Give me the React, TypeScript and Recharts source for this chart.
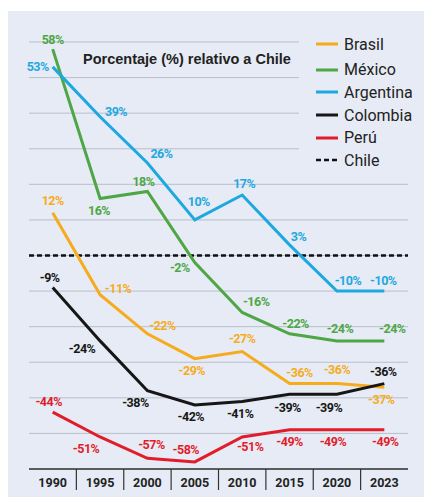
import { CartesianGrid, Legend, Line, LineChart, ReferenceLine, XAxis, YAxis } from "recharts"

const years = ["1990", "1995", "2000", "2005", "2010", "2015", "2020", "2023"]
const brasil = [12, -11, -22, -29, -27, -36, -36, -37]
const mexico = [58, 16, 18, -2, -16, -22, -24, -24]
const argentina = [53, 39, 26, 10, 17, 3, -10, -10]
const colombia = [-9, -24, -38, -42, -41, -39, -39, -36]
const peru = [-44, -51, -57, -58, -51, -49, -49, -49]
const yTicks = [-60, -50, -40, -30, -20, -10, 0, 10, 20, 30, 40, 50, 60]

const data = years.map((year, i) => ({
    year,
    brasil: brasil[i],
    mexico: mexico[i],
    argentina: argentina[i],
    colombia: colombia[i],
    peru: peru[i],
}))

// label offsets (dx, dy) from each point, hand placed like the print graphic
const OFFSETS: Record<string, number[][]> = {
    brasil: [[0, -12], [18, -6], [15, -8], [-3, 12], [0, -13], [10, -11], [0, -14], [-3, 12]],
    mexico: [[0, -10], [-1, 12], [-4, -10], [-15, 5], [14, -11], [6, -10], [3, -12], [8, -12]],
    argentina: [[-15, 0], [16, -5], [14, -9], [4, -18], [2, -12], [9, -8], [11, -11], [-1, -11]],
    colombia: [[-3, -10], [-18, 8], [-12, 12], [-4, 12], [-2, 12], [-2, 13], [-8, 13], [-1, -12]],
    peru: [[-4, -11], [-14, 12], [4, -14], [-9, -12], [8, 10], [0, 12], [-4, 12], [1, 12]],
}

const SERIES = [
    { key: "brasil", name: "Brasil", color: "#f6ab1c" },
    { key: "mexico", name: "México", color: "#4ea645" },
    { key: "argentina", name: "Argentina", color: "#1ea8e0" },
    { key: "colombia", name: "Colombia", color: "#161616" },
    { key: "peru", name: "Perú", color: "#e11d2b" },
]

const BG = "#e6ebf5"
const BAND = 379 / 8

const makeLabel = (key: string, color: string) => (props: any) => {
    const { x, y, value, index } = props
    const [dx, dy] = OFFSETS[key][index] || [0, -10]
    return (
        <text
            x={x + dx}
            y={y + dy + 4.5}
            textAnchor="middle"
            fill={color}
            fontSize={12.5}
            fontWeight={700}
            fontFamily="Roboto, sans-serif"
            letterSpacing={-0.5}
        >
            {value}%
        </text>
    )
}

const YearTick = (props: any) => {
    const { x, y, payload, index } = props
    return (
        <g>
            {index > 0 && <line x1={x - BAND / 2} x2={x - BAND / 2} y1={y} y2={y + 21} stroke="#333" strokeWidth={1.2} />}
            <text x={x} y={y + 18} textAnchor="middle" fill="#222" fontSize={12.5} fontWeight={700} fontFamily="Roboto, sans-serif">
                {payload.value}
            </text>
        </g>
    )
}

const renderLegend = () => (
    <div style={{ background: BG, width: 125, height: 140, paddingTop: 0, fontFamily: "Roboto, sans-serif" }}>
        {[...SERIES, { key: "chile", name: "Chile", color: "#111" }].map((s, i) => (
            <div key={s.key} style={{ display: "flex", alignItems: "center", height: 22.6, marginTop: i === 1 ? 3 : 0 }}>
                <svg width={22} height={4} style={{ marginLeft: 17, marginRight: 6 }}>
                    {s.key === "chile" ? (
                        <line x1={0} x2={22} y1={2} y2={2} stroke={s.color} strokeWidth={2.5} strokeDasharray="5 3" />
                    ) : (
                        <line x1={0} x2={22} y1={2} y2={2} stroke={s.color} strokeWidth={3} />
                    )}
                </svg>
                <span style={{ fontSize: 16, color: "#222" }}>{s.name}</span>
            </div>
        ))}
    </div>
)

export default function App() {
    return (
        <div style={{ position: "absolute", left: 8, top: 11, width: 416, height: 486, background: BG }}>
            <div
                style={{
                    position: "absolute",
                    left: 75,
                    top: 40,
                    fontFamily: "'Liberation Sans', Arial, sans-serif",
                    fontWeight: 700,
                    fontSize: 14.5,
                    color: "#222",
                    zIndex: 2,
                }}
            >
                Porcentaje (%) relativo a Chile
            </div>
            <LineChart width={416} height={486} data={data} margin={{ top: 31, right: 16, left: 21, bottom: 0 }}>
                <CartesianGrid horizontal vertical={false} stroke="#b9bfca" strokeWidth={1} />
                <YAxis hide domain={[-60, 60]} ticks={yTicks} />
                <XAxis
                    dataKey="year"
                    scale="band"
                    height={28}
                    tickLine={false}
                    tickSize={0}
                    tickMargin={0}
                    axisLine={{ stroke: "#333", strokeWidth: 1.5 }}
                    tick={<YearTick />}
                    interval={0}
                />
                <ReferenceLine y={0} stroke="#111" strokeWidth={2.5} strokeDasharray="5 3" />
                <Legend
                    layout="vertical"
                    align="center"
                    verticalAlign="middle"
                    content={renderLegend}
                    wrapperStyle={{ top: 22, left: 291, width: 125, height: 140 }}
                />
                {SERIES.map((s) => (
                    <Line
                        key={s.key}
                        type="linear"
                        dataKey={s.key}
                        name={s.name}
                        stroke={s.color}
                        strokeWidth={3}
                        dot={false}
                        activeDot={false}
                        isAnimationActive={false}
                        label={makeLabel(s.key, s.color)}
                    />
                ))}
            </LineChart>
        </div>
    )
}
